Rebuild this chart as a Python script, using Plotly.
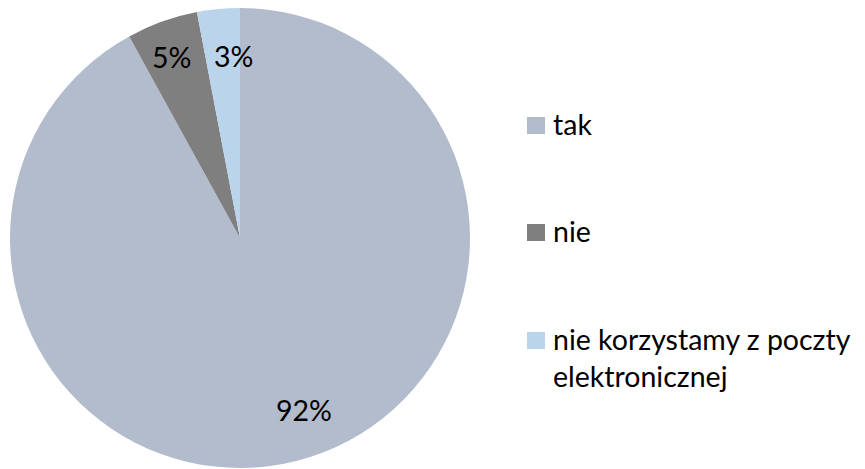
import math
import plotly.graph_objects as go

labels = ["tak", "nie", "nie korzystamy z poczty elektronicznej"]
legend_text = ["tak", "nie", "nie korzystamy z poczty<br>elektronicznej"]
values = [92, 5, 3]
pct_text = ["92%", "5%", "3%"]
colors = ["#B3BCCC", "#7F7F7F", "#BAD4EC"]

# page body has an 8px margin: build the figure in page pixels minus that offset
OFF = 8
W, H = 865 - OFF, 469 - OFF
FONT = "Lato"
FS = 28.5

# pie geometry (page pixels)
cx, cy, R = 240 - OFF, 238 - OFF, 230

fig = go.Figure(go.Pie(
    labels=labels, values=values, sort=False, direction="clockwise", rotation=0,
    marker=dict(colors=colors, line=dict(width=0)),
    textinfo="none", showlegend=False, hoverinfo="label+percent",
    domain=dict(x=[(cx - R) / W, (cx + R) / W], y=[(H - cy - R) / H, (H - cy + R) / H]),
))

# percentage labels: placed along each slice's mid-angle
radius_frac = [0.80, 0.84, 0.79]
angle_shift = [-6.0, -1.0, 3.5]
total = sum(values)
cum = 0
annotations = []
for v, t, rf, sh in zip(values, pct_text, radius_frac, angle_shift):
    mid = (cum + v / 2) / total * 360 + sh
    cum += v
    a = math.radians(mid)
    px = cx + rf * R * math.sin(a)
    py = cy - rf * R * math.cos(a)
    annotations.append(dict(x=px / W, y=1 - py / H, xref="paper", yref="paper",
                            text=t, showarrow=False, xanchor="center", yanchor="middle",
                            font=dict(family=FONT, size=FS, color="#000000")))

# legend drawn manually
leg_y = [125 - OFF, 232 - OFF, 340 - OFF]
shapes = []
for c, ly, lt in zip(colors, leg_y, legend_text):
    shapes.append(dict(type="rect", xref="paper", yref="paper",
                       x0=(527 - OFF) / W, x1=(545 - OFF) / W,
                       y0=1 - (ly + 9) / H, y1=1 - (ly - 8) / H,
                       fillcolor=c, line=dict(width=0)))
    annotations.append(dict(x=(551 - OFF) / W, y=1 - (ly - 20) / H, xref="paper", yref="paper",
                            text=lt, showarrow=False, xanchor="left", yanchor="top",
                            align="left",
                            font=dict(family=FONT, size=FS, color="#000000")))

fig.update_layout(
    width=W, height=H, margin=dict(l=0, r=0, t=0, b=0),
    paper_bgcolor="white", plot_bgcolor="white",
    annotations=annotations, shapes=shapes,
)
fig.write_html("out.html")
